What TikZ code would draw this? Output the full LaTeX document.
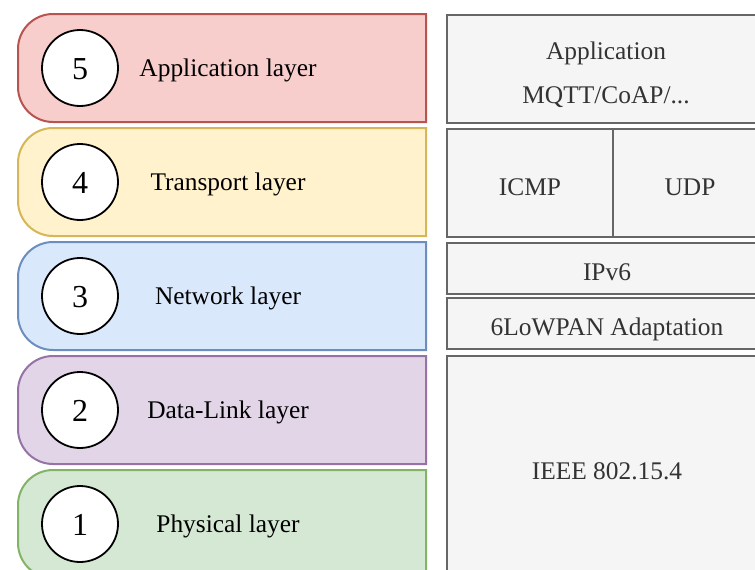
\documentclass[tikz,border=0pt]{standalone}
\usepackage{fontspec}
\setmainfont{Liberation Serif}
\definecolor{appfill}{HTML}{F8CECC}\definecolor{appline}{HTML}{B85450}
\definecolor{trafill}{HTML}{FFF2CC}\definecolor{traline}{HTML}{D6B656}
\definecolor{netfill}{HTML}{DAE8FC}\definecolor{netline}{HTML}{6C8EBF}
\definecolor{dllfill}{HTML}{E1D5E7}\definecolor{dllline}{HTML}{9673A6}
\definecolor{phyfill}{HTML}{D5E8D4}\definecolor{phyline}{HTML}{82B366}
\definecolor{boxfill}{HTML}{F5F5F5}\definecolor{boxline}{HTML}{666666}
\definecolor{boxtext}{HTML}{333333}
\tikzset{
  layershape/.style={line width=2pt},
  numcircle/.style={circle, draw=black, fill=white, line width=1.8pt,
    minimum size=76pt, inner sep=0pt, text height=23pt, text depth=0pt,
    font=\fontsize{32}{36}\selectfont},
  layertext/.style={font=\fontsize{25.4}{30}\selectfont, text=black,
    inner sep=0pt, text height=16pt, text depth=0pt},
  stackbox/.style={draw=boxline, fill=boxfill, line width=2pt, text=boxtext,
    anchor=north west, inner sep=0pt, align=center,
    text height=24.8pt, text depth=0pt,
    font=\fontsize{25.4}{30}\selectfont},
  stacktext/.style={text=boxtext, inner sep=0pt, anchor=base,
    font=\fontsize{25.4}{30}\selectfont},
}
\begin{document}
\begin{tikzpicture}[x=1pt, y=-1pt]
  \useasboundingbox (0,0) rectangle (755,570);
  % OSI layers on the left, rounded on their left side only
  \foreach \n/\lbl/\fc/\dc [count=\i from 0] in {
      5/Application layer/appfill/appline,
      4/Transport layer/trafill/traline,
      3/Network layer/netfill/netline,
      2/Data-Link layer/dllfill/dllline,
      1/Physical layer/phyfill/phyline}{
    \pgfmathsetmacro{\t}{14+114*\i}
    \pgfmathsetmacro{\b}{\t+108}
    \pgfmathsetmacro{\m}{\t+54}
    \draw[layershape, draw=\dc, fill=\fc]
      (426,\t) -- (53,\t)
      .. controls (33.7,\t) and (18,\t+15.7) .. (18,\t+35)
      -- (18,\b-35)
      .. controls (18,\b-15.7) and (33.7,\b) .. (53,\b)
      -- (426,\b) -- cycle;
    \node[numcircle] (num\n) at (80,\m) {\n};
    \node[layertext] (name\n) at (228,\m) {\lbl};
  }
  % 6LoWPAN protocol stack on the right
  \node[stackbox, minimum width=320pt, minimum height=108pt] (app) at (446,14) {};
  \node[stacktext] (appname) at (606,59.4) {Application};
  \node[stacktext] (appproto) at (606,103.4) {MQTT/CoAP/...};
  \node[stackbox, minimum width=166pt, minimum height=108pt] (icmp) at (446,128) {ICMP};
  \node[stackbox, minimum width=154pt, minimum height=108pt] (udp) at (612,128) {UDP};
  \node[stackbox, minimum width=320pt, minimum height=51pt] (ipv6) at (446,242) {IPv6};
  \node[stackbox, minimum width=320pt, minimum height=51pt] (lowpan) at (446,297) {6LoWPAN Adaptation};
  \node[stackbox, minimum width=320pt, minimum height=222pt] (ieee) at (446,355) {IEEE 802.15.4};
\end{tikzpicture}
\end{document}
